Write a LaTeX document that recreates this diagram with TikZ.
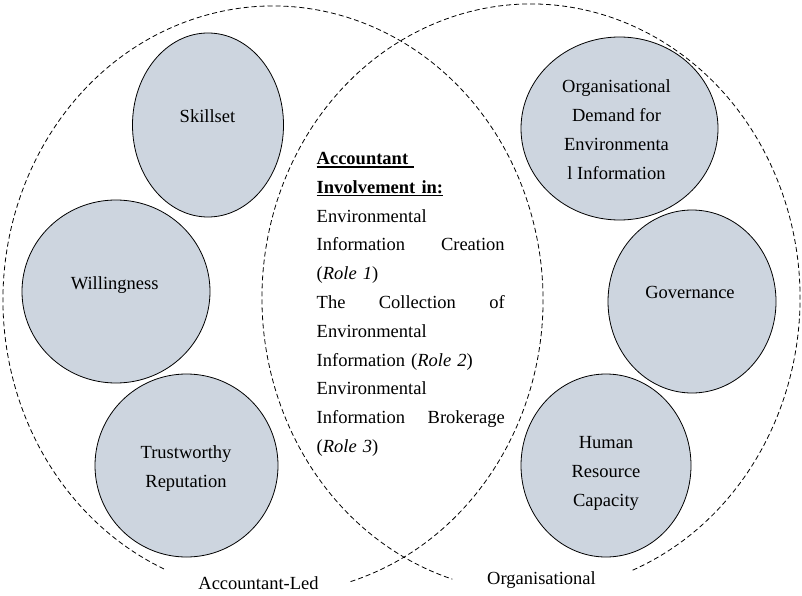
\documentclass[tikz,border=0pt]{standalone}
\usepackage{fontspec}
\setmainfont{Liberation Serif}
\usetikzlibrary{shapes.geometric}
\definecolor{factorfill}{RGB}{205,213,223}
\newcommand{\ulword}[1]{\leavevmode\setbox0=\hbox{\bfseries #1}\rlap{\rule[-3.2pt]{\wd0}{1.3pt}}\box0}
\newcommand{\fillline}[1]{\makebox[188pt][s]{#1}}
\tikzset{
  setline/.style={line width=0.8pt, dash pattern=on 5pt off 3pt},
  factor/.style={ellipse, draw, line width=0.8pt, fill=factorfill, inner sep=0pt},
  factortext/.style={align=center, inner sep=0pt,
    font=\fontsize{18.5}{28.8}\selectfont,
    execute at begin node=\strut, execute at end node=\strut},
  roletext/.style={factortext, align=left, text width=188pt}
}
\begin{document}
\begin{tikzpicture}[x=1pt,y=1pt]
  \useasboundingbox (0,0) rectangle (802,-596);
  \coordinate (ledc) at (273,-300);
  \coordinate (orgc) at (531,-298);
  \draw[setline] (ledc) ++(-73.3:270 and 294)
    arc[start angle=-73.3, end angle=246.8, x radius=270, y radius=294];
  \draw[setline] (orgc) ++(-67.8:269 and 294)
    arc[start angle=-67.8, end angle=253, x radius=269, y radius=294];
  \node[factor, minimum width=151pt, minimum height=184pt] (skillset) at (208,-125) {};
  \node[factor, minimum width=188pt, minimum height=183pt] (willing) at (116,-291.5) {};
  \node[factor, minimum width=183pt, minimum height=183pt] (trust) at (186.5,-465.5) {};
  \node[factor, minimum width=197pt, minimum height=183pt] (demand) at (619.5,-128.5) {};
  \node[factor, minimum width=168pt, minimum height=183pt] (govern) at (692,-301.5) {};
  \node[factor, minimum width=170pt, minimum height=183pt] (human) at (606,-465.5) {};
  \node[factortext] (skillsetlbl) at (207.5,-117) {Skillset};
  \node[factortext] (willinglbl) at (114.7,-283.5) {Willingness};
  \node[factortext] (trustlbl) at (186,-471) {Trustworthy\\Reputation};
  \node[factortext] (demandlbl) at (616.5,-134) {Organisational\\Demand for\\Environmenta\\l Information};
  \node[factortext] (governlbl) at (690,-293) {Governance};
  \node[factortext] (humanlbl) at (606,-475.5) {Human\\Resource\\Capacity};
  \node[roletext, anchor=west] (roles) at (316.5,-302.7) {%
    \ulword{Accountant\ }\\
    \ulword{Involvement in:}\\
    Environmental\\
    \fillline{Information\hfill Creation}\\
    (\textit{Role 1})\\
    \fillline{The\hfill Collection\hfill of}\\
    Environmental\\
    Information (\textit{Role 2})\\
    Environmental\\
    \fillline{Information\hfill Brokerage}\\
    (\textit{Role 3})};
  \node[factortext] (ledlbl) at (258.5,-584.2) {Accountant-Led};
  \node[factortext] (orglbl) at (541.5,-579.2) {Organisational};
\end{tikzpicture}
\end{document}
